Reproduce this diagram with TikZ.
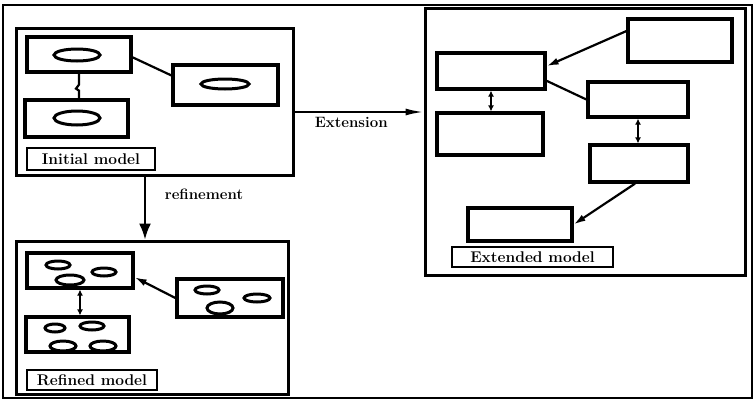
\documentclass[tikz,border=0pt]{standalone}
\usetikzlibrary{arrows.meta,positioning}

\begin{document}
\begin{tikzpicture}[x=1pt,y=-1pt,
    model/.style={draw,line width=3pt,inner sep=0pt},
    cls/.style={draw,line width=3.2pt,inner sep=0pt,fill=white},
    tag/.style={draw,line width=2pt,inner sep=0pt,fill=white,
                font=\fontsize{15.5}{18}\selectfont\bfseries},
    blob/.style={draw,line width=3pt,fill=white},
    link/.style={line width=2.2pt},
    arr/.style={line width=2.2pt,-{Latex[length=12pt,width=7pt]}},
    dbl/.style={line width=1.8pt,{Latex[length=6pt,width=6pt]}-{Latex[length=6pt,width=6pt]}},
    lbl/.style={font=\fontsize{15}{18}\selectfont\bfseries}]
  \useasboundingbox (0,0) rectangle (755,402);
  \node[draw,line width=1.8pt,minimum width=749pt,minimum height=393pt] (frame) at (377.5,201.5) {};

  % initial model
  \node[model,minimum width=277pt,minimum height=147pt] (init) at (154.5,101.5) {};
  \node[cls,minimum width=104pt,minimum height=35pt] (ia) at (79,54.5) {};
  \node[cls,minimum width=103pt,minimum height=37pt] (ib) at (76.5,118.5) {};
  \node[cls,minimum width=105pt,minimum height=40pt] (ic) at (225.5,85) {};
  \node[tag,minimum width=128pt,minimum height=22pt] (itag) at (91,159) {Initial model};
  \foreach \cx/\cy/\rx/\ry in {77/55/23/6, 77/118/23/7, 225/84/24/5}
    \draw[blob] (\cx,\cy) ellipse [x radius=\rx, y radius=\ry];
  \draw[link] (ia.south) -- ++(0,11) -- ++(-3,4) -- ++(3,2) -- (ia.south |- ib.north);
  \draw[link] (ia.-3) -- (ic.170);

  % refined model
  \node[model,minimum width=272pt,minimum height=153pt] (refd) at (152,317.5) {};
  \node[cls,minimum width=106pt,minimum height=35pt] (ra) at (80,270.5) {};
  \node[cls,minimum width=103pt,minimum height=35pt] (rb) at (77.5,334.5) {};
  \node[cls,minimum width=106pt,minimum height=38pt] (rc) at (230,298) {};
  \node[tag,minimum width=130pt,minimum height=20pt] (rtag) at (92,380) {Refined model};
  \foreach \cx/\cy/\rx/\ry in {58/265/12/4, 104/272/12/4, 70/280/14/5,
      55/328/10/4, 92/326/12/4, 63/346/13/5, 103/346/13/5,
      207/290/12/4, 257/298/13/4, 220/308/13/6}
    \draw[blob] (\cx,\cy) ellipse [x radius=\rx, y radius=\ry];
  \draw[arr] (rc.west) -- (ra.-7);
  \draw[dbl] (ra.south) -- (ra.south |- rb.north);

  % extended model
  \node[model,minimum width=320pt,minimum height=267pt] (ext) at (585,141.5) {};
  \node[cls,minimum width=108pt,minimum height=36pt] (ea) at (491,71) {};
  \node[cls,minimum width=104pt,minimum height=43pt] (eb) at (680,40.5) {};
  \node[cls,minimum width=106pt,minimum height=42pt] (ec) at (490,134) {};
  \node[cls,minimum width=100pt,minimum height=35pt] (ed) at (638,99.5) {};
  \node[cls,minimum width=98pt,minimum height=37pt] (ee) at (639,163.5) {};
  \node[cls,minimum width=104pt,minimum height=33pt] (ef) at (520,224.5) {};
  \node[tag,minimum width=161pt,minimum height=20pt] (etag) at (532.5,257) {Extended model};
  \draw[arr] (eb.170) -- (ea.5);
  \draw[link] (ea.-10) -- (ed.west);
  \draw[dbl] (ea.south) -- (ea.south |- ec.north);
  \draw[dbl] (ed.south) -- (ed.south |- ee.north);
  \draw[arr] ([xshift=-4pt]ee.south) -- (ef.east);

  % model operations
  \draw[line width=2pt,-{Latex[length=16pt,width=12pt]}]
    ([xshift=-9.5pt]init.south) -- ([xshift=-9.5pt]init.south |- refd.north);
  \node[lbl] (reflbl) at (204,194) {refinement};
  \draw[line width=2pt,-{Latex[length=18pt,width=7pt]}]
    ([yshift=-10.5pt]init.east) -- ([yshift=-10.5pt]init.east -| ext.west)
    node[lbl,pos=0.44,below=1pt] (extlbl) {Extension};
\end{tikzpicture}
\end{document}
